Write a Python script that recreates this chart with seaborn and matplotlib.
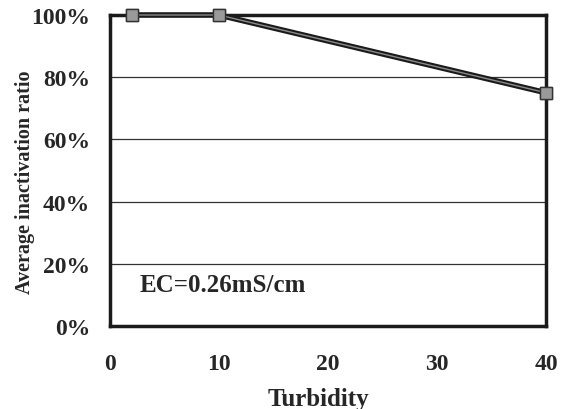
import matplotlib
matplotlib.use("Agg")
import matplotlib.pyplot as plt
import seaborn as sns
import pandas as pd
from matplotlib.ticker import PercentFormatter

turbidity = [2, 10, 40]
inactivation = [100, 100, 75]
x_ticks = [0, 10, 20, 30, 40]
y_ticks = [0, 20, 40, 60, 80, 100]

df = pd.DataFrame({"Turbidity": turbidity, "Ratio": inactivation})

sns.set_theme(style="white")
plt.rcParams['font.family'] = ['Liberation Serif', 'DejaVu Serif']
plt.rcParams['font.weight'] = 'bold'

fig = plt.figure(figsize=(5.66, 4.10), dpi=100)
ax = fig.add_axes([0.194, 0.202, 0.771, 0.759])

for y in [20, 40, 60, 80]:
    ax.axhline(y, color="#333333", lw=0.9, zorder=1)

sns.lineplot(data=df, x="Turbidity", y="Ratio", ax=ax, color="#1a1a1a", lw=4,
             marker="s", markersize=9, markerfacecolor="#9a9a9a",
             markeredgecolor="#333333", markeredgewidth=1, zorder=3, clip_on=False)
ax.plot(turbidity, inactivation, color="#8a8a8a", lw=1.0, zorder=4, clip_on=False)
ax.plot(turbidity, inactivation, ls="none", marker="s", markersize=9,
        markerfacecolor="#9a9a9a", markeredgecolor="#333333", markeredgewidth=1,
        zorder=5, clip_on=False)

ax.set_xlim(0, 40)
ax.set_ylim(0, 100)
ax.set_xticks(x_ticks)
ax.set_yticks(y_ticks)
ax.yaxis.set_major_formatter(PercentFormatter(decimals=0))
ax.tick_params(axis="x", direction="in", length=4, width=1.5, color="#222222",
               labelsize=17, pad=19)
ax.tick_params(axis="y", length=0, labelsize=17, pad=14)
for lab in ax.get_xticklabels() + ax.get_yticklabels():
    lab.set_fontweight("bold")

for s in ax.spines.values():
    s.set_visible(True)
    s.set_color("#1a1a1a")
    s.set_linewidth(2.5)

ax.set_xlabel("Turbidity", fontsize=18, fontweight="bold")
ax.set_ylabel("Average inactivation ratio", fontsize=14.5, fontweight="bold")
ax.yaxis.set_label_coords(-0.172, 0.466)
ax.xaxis.set_label_coords(0.477, -0.196)

ax.text(2.75, 13.5, "EC=0.26mS/cm", fontsize=18, fontweight="bold", va="center", ha="left")

fig.savefig("out.png", dpi=100)
